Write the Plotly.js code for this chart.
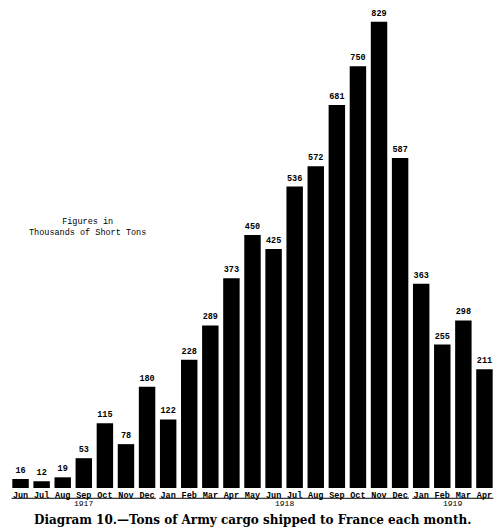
<!DOCTYPE html>
<html>
<head>
<meta charset="utf-8">
<script src="https://cdn.plot.ly/plotly-3.0.1.min.js"></script>
<style>html,body{margin:0;padding:0;background:#fff;}#chart{width:504px;height:531px;}</style>
</head>
<body>
<div id="chart"></div>
<script>
// Months (index order) and cargo shipped, thousands of short tons
const months = ["Jun","Jul","Aug","Sep","Oct","Nov","Dec",
                "Jan","Feb","Mar","Apr","May","Jun","Jul","Aug","Sep","Oct","Nov","Dec",
                "Jan","Feb","Mar","Apr"];
const tons = [16, 12, 19, 53, 115, 78, 180,
              122, 228, 289, 373, 450, 425, 536, 572, 681, 750, 829, 587,
              363, 255, 298, 211];
// Year groups: label, first month index, last month index
const yearLabels = ["1917", "1918", "1919"];
const yearStart = [0, 7, 19];
const yearEnd = [6, 18, 22];

const idx = months.map((m, i) => i);

const trace = {
  type: "bar",
  x: idx,
  y: tons,
  marker: {color: "#000"},
  width: 0.78,
  text: tons.map(String),
  textposition: "outside",
  textfont: {family: "Liberation Mono", size: 8.5, color: "#000", weight: "bold"},
  constraintext: "none",
  cliponaxis: false,
  hoverinfo: "none"
};

const shapes = [];
const annotations = [];
for (let k = 0; k < yearLabels.length; k++) {
  shapes.push({
    type: "line", xref: "x", yref: "paper",
    x0: yearStart[k] - 0.42, x1: yearEnd[k] + 0.42,
    y0: -0.0215, y1: -0.0215,
    line: {color: "#000", width: 1}
  });
  annotations.push({
    text: yearLabels[k], xref: "x", yref: "paper",
    x: (yearStart[k] + yearEnd[k]) / 2, y: -0.0325,
    xanchor: "center", yanchor: "middle", showarrow: false,
    font: {family: "Liberation Mono", size: 8, color: "#000"}
  });
}
annotations.push({
  text: "Figures in<br>Thousands of Short Tons",
  xref: "paper", yref: "paper", x: 0.16, y: 0.544,
  xanchor: "center", yanchor: "middle", showarrow: false, align: "center",
  font: {family: "Liberation Mono", size: 8.5, color: "#000"}
});
annotations.push({
  text: "Diagram 10.—Tons of Army cargo shipped to France each month.",
  xref: "paper", yref: "paper", x: 0.5, y: -0.067,
  xanchor: "center", yanchor: "middle", showarrow: false,
  font: {family: "DejaVu Serif", size: 12, color: "#000", weight: "bold"}
});

const layout = {
  width: 504, height: 531,
  margin: {l: 10, r: 9, t: 10, b: 43},
  paper_bgcolor: "#fff", plot_bgcolor: "#fff",
  showlegend: false,
  xaxis: {
    range: [-0.5, 22.5],
    tickmode: "array", tickvals: idx, ticktext: months,
    ticks: "", showgrid: false, zeroline: false, showline: false,
    tickfont: {family: "Liberation Mono", size: 8.5, color: "#000", weight: "bold"},
    fixedrange: true
  },
  yaxis: {
    range: [0, 850], visible: false, showgrid: false, zeroline: false, fixedrange: true
  },
  shapes: shapes,
  annotations: annotations,
  bargap: 0.2
};

Plotly.newPlot("chart", [trace], layout, {staticPlot: true, displayModeBar: false});
</script>
</body>
</html>
